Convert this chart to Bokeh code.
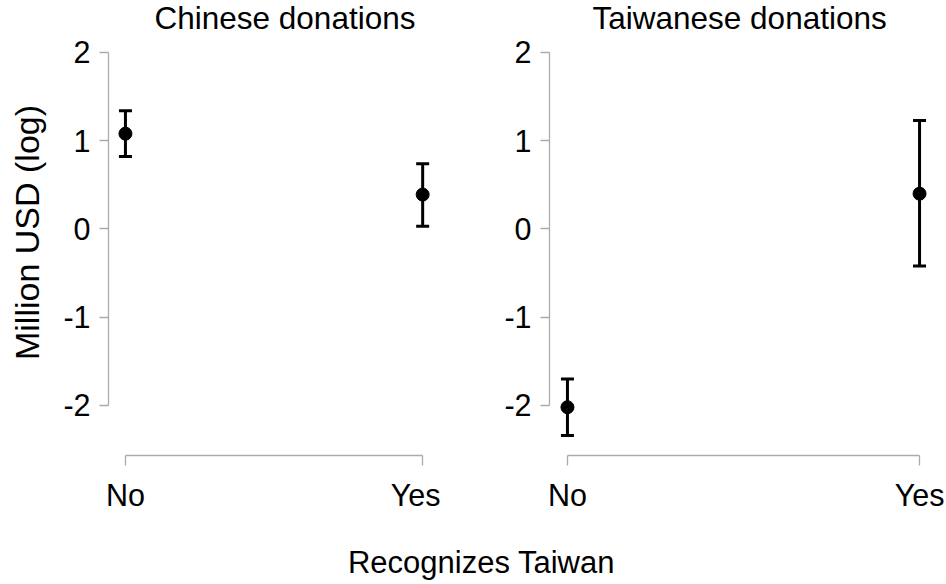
import math
from bokeh.plotting import figure
from bokeh.layouts import column, row
from bokeh.models import (ColumnDataSource, Range1d, FixedTicker, Whisker, TeeHead, Label)
from bokeh.embed import file_html
from bokeh.resources import INLINE

# Estimated means and confidence intervals (million USD, log scale)
categories = ["No", "Yes"]
cat_pos = [1, 2]
china_mean = [1.08, 0.39]
china_lower = [0.82, 0.03]
china_upper = [1.34, 0.74]
taiwan_mean = [-2.02, 0.40]
taiwan_lower = [-2.34, -0.42]
taiwan_upper = [-1.70, 1.23]
y_ticks = [-2, -1, 0, 1, 2]

FONT = "Liberation Sans"
AXIS_GREY = "#ababab"
YLAB_W = 60


def panel(title, title_x, means, lows, highs, width, border_left, border_right, x_range):
    # the frame reaches the top edge so the panel heading can sit inside it;
    # the bounded axes keep the range-frame look
    p = figure(width=width, height=520, output_backend="svg", toolbar_location=None,
               title=None, x_range=x_range, y_range=Range1d(-2.567, 2.589),
               min_border_left=border_left, min_border_right=border_right,
               min_border_top=0, min_border_bottom=65)
    p.outline_line_color = None
    p.xgrid.grid_line_color = None
    p.ygrid.grid_line_color = None

    for ax in (p.xaxis[0], p.yaxis[0]):
        ax.axis_line_color = AXIS_GREY
        ax.axis_line_width = 1.3
        ax.major_tick_line_color = AXIS_GREY
        ax.major_tick_line_width = 1.3
        ax.major_tick_in = 0
        ax.minor_tick_line_color = None
        ax.major_label_text_font = FONT
        ax.major_label_text_font_size = "30.5px"
        ax.major_label_text_color = "black"
    p.yaxis.bounds = (-2, 2)
    p.yaxis.ticker = FixedTicker(ticks=y_ticks)
    p.yaxis.major_label_overrides = {t: str(t) for t in y_ticks}
    p.yaxis.major_tick_out = 9
    p.yaxis.major_label_standoff = 9
    p.xaxis.bounds = (1, 2)
    p.xaxis.ticker = FixedTicker(ticks=cat_pos)
    p.xaxis.major_label_overrides = {k: v for k, v in zip(cat_pos, categories)}
    p.xaxis.major_tick_out = 10
    p.xaxis.major_label_standoff = 12

    src = ColumnDataSource(dict(x=cat_pos, mean=means, lower=lows, upper=highs))
    p.add_layout(Whisker(source=src, base="x", lower="lower", upper="upper",
                         dimension="height", line_color="black", line_width=3,
                         upper_head=TeeHead(size=13, line_width=3, line_color="black"),
                         lower_head=TeeHead(size=13, line_width=3, line_color="black")))
    p.scatter("x", "mean", source=src, size=13, color="black")

    p.add_layout(Label(text=title, x_units="screen", y_units="screen",
                       x=title_x, y=438, text_align="left", text_baseline="alphabetic",
                       text_font=FONT, text_font_size="31.5px", text_color="black"))
    return p


left = panel("Chinese donations", 46, china_mean, china_lower, china_upper,
             440 - YLAB_W, 106 - YLAB_W, 0, Range1d(0.943, 2.060))
right = panel("Taiwanese donations", 43, taiwan_mean, taiwan_lower, taiwan_upper,
              506, 109, 9, Range1d(0.949, 2.051))

# narrow strip holding the shared y-axis title (its frame lines up with the panels)
ylab = figure(width=YLAB_W, height=520, output_backend="svg", toolbar_location=None,
              title=None, x_range=Range1d(0, 1), y_range=Range1d(0, 1),
              min_border=0, x_axis_type=None, y_axis_type=None)
ylab.outline_line_color = None
ylab.grid.grid_line_color = None
ylab.add_layout(Label(text="Million USD (log)", x_units="screen", y_units="screen",
                      x=26, y=223, angle=math.pi / 2, text_align="center",
                      text_baseline="alphabetic", text_font=FONT,
                      text_font_size="34px", text_color="black"))

# strip below both panels holding the shared x-axis title
foot = figure(width=946, height=64, output_backend="svg", toolbar_location=None,
              title=None, x_range=Range1d(0, 1), y_range=Range1d(0, 1),
              min_border=0, x_axis_type=None, y_axis_type=None)
foot.outline_line_color = None
foot.grid.grid_line_color = None
foot.add_layout(Label(text="Recognizes Taiwan", x_units="screen", y_units="screen",
                      x=481, y=22, text_align="center", text_baseline="alphabetic",
                      text_font=FONT, text_font_size="31px", text_color="black"))

layout = column(row(ylab, left, right), foot)
open("out.html", "w").write(file_html(layout, INLINE))
